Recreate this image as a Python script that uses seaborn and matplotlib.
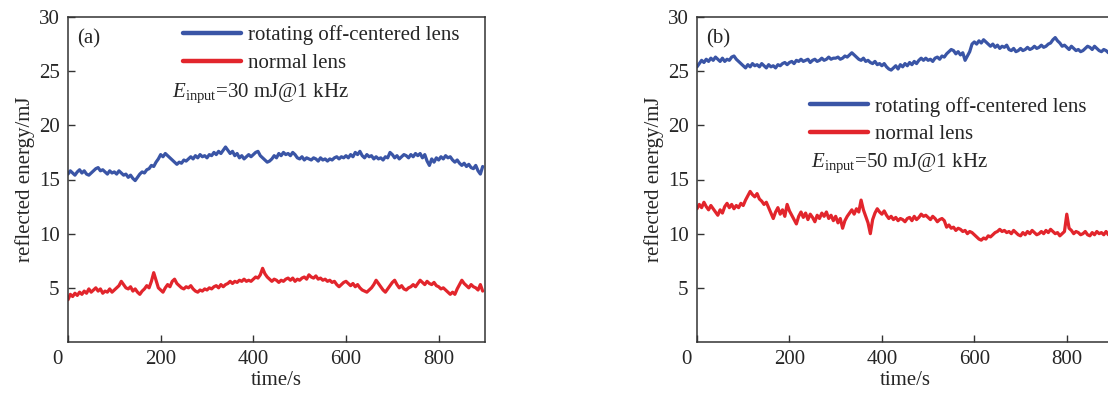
import numpy as np
import pandas as pd
import matplotlib
matplotlib.use("Agg")
import matplotlib.pyplot as plt
import matplotlib.transforms as mtransforms
import seaborn as sns

# sample times (s), one reading every 5 s
time_s = np.arange(0, 900, 5)

# panel (a): E_input = 30 mJ @ 1 kHz
a_rotating = [
    15.5, 15.8, 15.6, 15.4, 15.7, 15.9, 15.6, 15.8, 15.5, 15.4, 15.6, 15.8, 16.0, 16.1, 15.8, 15.9, 15.7, 15.5, 15.8, 15.6,
    15.7, 15.5, 15.8, 15.6, 15.4, 15.5, 15.2, 15.4, 15.1, 14.9, 15.2, 15.5, 15.7, 15.6, 15.9, 16.0, 16.3, 16.2, 16.6, 16.9,
    17.3, 17.1, 17.4, 17.2, 17.0, 16.8, 16.6, 16.4, 16.6, 16.5, 16.8, 16.7, 16.9, 17.1, 16.9, 17.2, 17.0, 17.3, 17.1, 17.2,
    17.0, 17.3, 17.2, 17.5, 17.3, 17.6, 17.4, 17.7, 18.0, 17.7, 17.4, 17.6, 17.2, 17.4, 17.0, 17.2, 16.9, 17.1, 17.3, 17.1,
    17.3, 17.5, 17.6, 17.2, 17.0, 16.8, 16.6, 16.7, 16.9, 17.2, 17.0, 17.4, 17.2, 17.5, 17.3, 17.4, 17.2, 17.5, 17.3, 17.0,
    16.9, 17.1, 16.8, 17.0, 16.9, 16.8, 17.0, 16.9, 16.7, 17.0, 16.8, 16.9, 16.7, 16.9, 16.8, 17.0, 17.1, 16.9, 17.1, 17.0,
    17.2, 17.0, 17.3, 17.1, 17.5, 17.3, 17.6, 17.2, 17.0, 17.3, 17.1, 17.2, 16.9, 17.1, 16.9, 17.0, 16.8, 17.1, 17.0, 17.5,
    17.3, 17.0, 17.2, 16.9, 17.1, 17.3, 17.2, 17.0, 17.3, 17.1, 17.4, 17.2, 17.4, 17.0, 17.3, 16.7, 16.3, 16.9, 16.6, 17.0,
    16.8, 17.1, 16.9, 17.2, 17.0, 17.1, 16.8, 16.6, 16.8, 16.5, 16.3, 16.5, 16.2, 16.4, 16.1, 16.0, 16.3, 15.8, 15.5, 16.2,
]
a_normal = [
    3.9, 4.4, 4.2, 4.5, 4.3, 4.6, 4.4, 4.7, 4.5, 4.9, 4.6, 4.8, 5.0, 4.7, 4.9, 4.5, 4.7, 4.6, 4.9, 4.6,
    4.8, 5.0, 5.2, 5.6, 5.3, 5.0, 4.9, 5.1, 4.7, 4.9, 4.6, 4.4, 4.7, 4.9, 5.2, 5.0, 5.6, 6.4, 5.7, 5.0,
    4.8, 4.6, 5.0, 5.3, 5.1, 5.6, 5.8, 5.4, 5.2, 5.0, 4.9, 5.1, 5.0, 5.2, 4.9, 4.7, 4.6, 4.8, 4.7, 4.9,
    4.8, 5.0, 4.9, 5.1, 5.2, 5.0, 5.3, 5.1, 5.3, 5.4, 5.6, 5.4, 5.6, 5.5, 5.7, 5.6, 5.8, 5.6, 5.7, 5.6,
    5.8, 6.0, 5.9, 6.2, 6.8, 6.3, 6.0, 5.8, 5.6, 5.8, 5.7, 5.5, 5.7, 5.6, 5.8, 5.9, 5.7, 5.9, 5.6, 5.8,
    5.7, 5.9, 6.0, 5.8, 6.2, 6.0, 5.9, 6.1, 5.8, 5.9, 5.7, 5.8, 5.6, 5.7, 5.5, 5.6, 5.3, 5.1, 5.3, 5.5,
    5.6, 5.4, 5.2, 5.4, 5.1, 5.3, 5.0, 4.8, 4.7, 4.6, 4.8, 5.0, 5.3, 5.7, 5.4, 5.1, 4.8, 4.6, 4.9, 5.2,
    5.5, 5.7, 5.3, 5.0, 5.2, 4.9, 4.8, 5.0, 5.1, 5.3, 5.1, 5.4, 5.7, 5.5, 5.3, 5.6, 5.4, 5.3, 5.5, 5.2,
    5.1, 4.9, 5.0, 4.8, 4.6, 4.4, 4.6, 4.4, 4.9, 5.3, 5.7, 5.4, 5.2, 5.0, 5.3, 5.1, 5.0, 4.8, 5.3, 4.7,
]

# panel (b): E_input = 50 mJ @ 1 kHz
b_rotating = [
    25.4, 25.7, 26.0, 25.8, 26.1, 25.9, 26.2, 26.0, 26.3, 26.1, 25.9, 26.2, 25.9, 26.1, 26.0, 26.3, 26.4, 26.1, 25.9, 25.7,
    25.5, 25.3, 25.6, 25.4, 25.7, 25.5, 25.6, 25.4, 25.7, 25.5, 25.3, 25.6, 25.4, 25.5, 25.3, 25.6, 25.5, 25.7, 25.8, 25.6,
    25.8, 25.9, 25.7, 26.0, 25.9, 26.1, 25.9, 26.0, 26.1, 25.8, 26.0, 26.1, 25.9, 26.0, 26.2, 26.0, 26.1, 26.3, 26.1, 26.2,
    26.2, 26.3, 26.1, 26.2, 26.4, 26.3, 26.5, 26.7, 26.5, 26.3, 26.1, 26.0, 26.2, 25.9, 26.0, 25.8, 25.7, 25.9, 25.6, 25.7,
    25.5, 25.7, 25.4, 25.2, 25.1, 25.3, 25.5, 25.2, 25.6, 25.4, 25.7, 25.5, 25.8, 25.6, 25.9, 25.7, 26.0, 26.2, 26.0, 26.2,
    26.0, 26.1, 25.9, 26.2, 26.3, 26.1, 26.4, 26.3, 26.6, 26.8, 27.0, 26.9, 26.6, 26.8, 26.5, 26.7, 26.0, 26.4, 26.8, 27.5,
    27.7, 27.5, 27.8, 27.6, 27.9, 27.7, 27.5, 27.3, 27.5, 27.2, 27.4, 27.1, 27.3, 27.2, 27.4, 27.0, 26.9, 27.1, 26.8, 26.9,
    27.1, 26.9, 27.0, 27.2, 27.0, 27.1, 27.3, 27.1, 27.2, 27.4, 27.2, 27.3, 27.5, 27.6, 27.9, 28.1, 27.8, 27.6, 27.3, 27.4,
    27.2, 27.0, 27.3, 27.1, 26.9, 27.0, 26.8, 26.9, 27.1, 27.3, 27.2, 27.0, 27.3, 27.1, 26.9, 26.8, 27.0, 26.9, 26.7, 27.0,
]
b_normal = [
    12.3, 12.7, 12.4, 12.9, 12.5, 12.2, 12.6, 12.3, 12.0, 11.7, 12.2, 11.9, 12.5, 12.8, 12.4, 12.7, 12.3, 12.6, 12.4, 12.8,
    12.6, 13.1, 13.5, 13.9, 13.6, 13.4, 13.7, 13.2, 13.0, 12.7, 12.9, 12.4, 11.9, 11.4, 12.0, 12.4, 11.8, 12.2, 11.6, 12.7,
    12.1, 11.7, 11.3, 10.9, 11.6, 12.0, 11.5, 11.9, 11.3, 11.8, 11.5, 11.1, 11.7, 11.4, 11.9, 11.6, 12.0, 11.4, 11.7, 11.2,
    11.6, 11.0, 11.4, 10.5, 11.2, 11.6, 11.9, 12.2, 11.8, 12.3, 12.0, 13.1, 12.2, 11.6, 11.0, 10.0, 11.3, 11.9, 12.3, 12.0,
    11.8, 12.1, 11.7, 11.4, 11.6, 11.3, 11.5, 11.2, 11.4, 11.3, 11.1, 11.4, 11.5, 11.2, 11.6, 11.3, 11.5, 11.8, 11.6, 11.7,
    11.5, 11.3, 11.6, 11.4, 11.1, 11.3, 11.4, 11.2, 10.6, 10.8, 10.5, 10.6, 10.3, 10.5, 10.4, 10.2, 10.3, 10.0, 10.2, 10.1,
    9.9, 9.7, 9.5, 9.4, 9.6, 9.5, 9.8, 9.7, 9.9, 10.1, 10.2, 10.4, 10.2, 10.3, 10.1, 10.2, 10.0, 10.3, 10.1, 9.9,
    9.8, 10.1, 9.9, 10.2, 10.0, 10.3, 10.1, 9.9, 10.0, 10.2, 10.0, 10.3, 10.1, 10.4, 10.2, 10.0, 10.1, 9.8, 10.0, 10.2,
    11.8, 10.5, 10.3, 10.0, 10.2, 10.1, 9.9, 10.0, 10.2, 9.9, 9.8, 10.1, 9.9, 10.2, 10.0, 10.1, 9.9, 10.2, 9.9, 10.1,
]

labels = ["rotating off-centered lens", "normal lens"]
x_ticks = [0, 200, 400, 600, 800]
y_ticks = [5, 10, 15, 20, 25, 30]

sns.set_style("ticks")
plt.rcParams["font.family"] = ["Liberation Serif", "DejaVu Serif"]
plt.rcParams["mathtext.fontset"] = "custom"
plt.rcParams["mathtext.rm"] = "Liberation Serif"
plt.rcParams["mathtext.it"] = "Liberation Serif:italic"

palette = {labels[0]: "#3a55a6", labels[1]: "#e2252c"}
fs = 15

fig = plt.figure(figsize=(11.08, 3.99), dpi=100)
ax_a = fig.add_axes([68 / 1108, 57 / 399, 417 / 1108, 325 / 399])
ax_b = fig.add_axes([697 / 1108, 57 / 399, 416 / 1108, 325 / 399])

panels = [
    (ax_a, a_rotating, a_normal, "(a)", r"$E_{\rm input}$=30 mJ@1 kHz", (0.276, 0.975), (0.25, 0.766)),
    (ax_b, b_rotating, b_normal, "(b)", r"$E_{\rm input}$=50 mJ@1 kHz", (0.272, 0.755), (0.273, 0.55)),
]

for ax, rot, nor, tag, note, leg_pos, note_pos in panels:
    df = pd.DataFrame({
        "time": np.concatenate([time_s, time_s]),
        "energy": rot + nor,
        "lens": [labels[0]] * len(rot) + [labels[1]] * len(nor),
    })
    sns.lineplot(data=df, x="time", y="energy", hue="lens", palette=palette,
                 linewidth=2.3, ax=ax, legend=True)
    handles, labs = ax.get_legend_handles_labels()
    for h in handles:
        h.set_linewidth(3.2)
    ax.legend(handles, labs, loc="upper left", bbox_to_anchor=leg_pos, frameon=False,
              fontsize=fs, handlelength=2.8, handletextpad=0.3, labelspacing=0.4,
              borderpad=0, borderaxespad=0)

    ax.set_xlim(0, 900)
    ax.set_ylim(0, 30)
    ax.set_xticks(x_ticks)
    ax.set_yticks(y_ticks)
    ax.tick_params(direction="in", length=5, width=1, labelsize=fs, color="#333333", pad=6)
    for sp in ax.spines.values():
        sp.set_visible(True)
        sp.set_linewidth(1.1)
        sp.set_color("#333333")
    # origin label sits left of the axis corner
    lab0 = ax.get_xticklabels()[0]
    lab0.set_transform(lab0.get_transform() +
                       mtransforms.ScaledTranslation(-0.11, 0, fig.dpi_scale_trans))
    ax.set_xlabel("time/s", fontsize=fs, labelpad=1)
    ax.set_ylabel("reflected energy/mJ", fontsize=fs, labelpad=3)
    ax.text(0.022, 0.932, tag, transform=ax.transAxes, fontsize=fs, va="center", ha="left")
    ax.text(note_pos[0], note_pos[1], note, transform=ax.transAxes, fontsize=fs,
            va="center", ha="left")

fig.savefig("out.png", dpi=100)
